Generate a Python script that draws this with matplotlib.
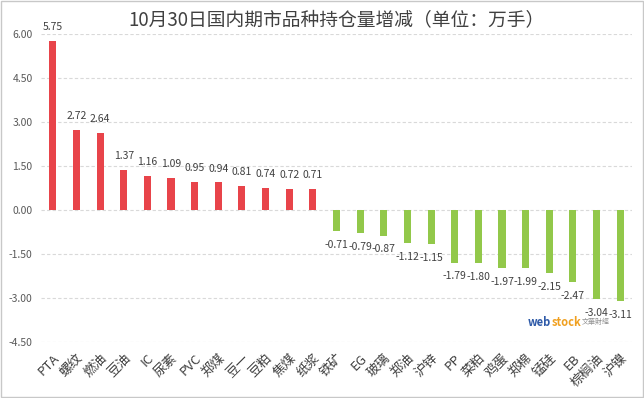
import matplotlib
matplotlib.use("Agg")
import matplotlib.pyplot as plt
from matplotlib.patches import Rectangle

plt.rcParams['font.family'] = ['Noto Sans CJK SC', 'DejaVu Sans']

categories = ["PTA", "螺纹", "燃油", "豆油", "IC", "尿素", "PVC", "郑煤", "豆一", "豆粕",
              "焦煤", "纸浆", "铁矿", "EG", "玻璃", "郑油", "沪锌", "PP", "菜粕", "鸡蛋",
              "郑棉", "锰硅", "EB", "棕榈油", "沪镍"]
values = [5.75, 2.72, 2.64, 1.37, 1.16, 1.09, 0.95, 0.94, 0.81, 0.74,
          0.72, 0.71, -0.71, -0.79, -0.87, -1.12, -1.15, -1.79, -1.80, -1.97,
          -1.99, -2.15, -2.47, -3.04, -3.11]
yticks = [6.00, 4.50, 3.00, 1.50, 0.00, -1.50, -3.00, -4.50]
title = "10月30日国内期市品种持仓量增减（单位：万手）"

RED = "#E8444A"
GREEN = "#92C84A"

fig = plt.figure(figsize=(6.44, 3.98), dpi=100)
ax = fig.add_axes([41/644, 1 - 342/398, (632 - 41)/644, (342 - 34)/398])

x = list(range(len(categories)))
colors = [RED if v >= 0 else GREEN for v in values]
ax.bar(x, values, width=0.3, color=colors, zorder=3)

ax.set_ylim(-4.5, 6.0)
ax.set_xlim(-0.5, len(categories) - 0.5)
ax.set_yticks(yticks)
ax.set_yticklabels([f"{t:.2f}" for t in yticks], fontsize=7.5, color="#595959")
ax.yaxis.grid(True, color="#D9D9D9", linestyle=(0, (3, 2)), linewidth=0.8, zorder=0)
ax.tick_params(axis='y', length=0, pad=6)
ax.tick_params(axis='x', length=0, pad=7)
ax.set_xticks(x)
ax.set_xticklabels(categories, rotation=45, ha='right', rotation_mode='anchor',
                   fontsize=9.5, color="#404040")
for s in ax.spines.values():
    s.set_visible(False)

for xi, v in zip(x, values):
    if v >= 0:
        ax.annotate(f"{v:.2f}", (xi, v), xytext=(0, 10), textcoords='offset points',
                    ha='center', va='center', fontsize=7.5, color="#404040")
    else:
        ax.annotate(f"{v:.2f}", (xi, v), xytext=(0, -10), textcoords='offset points',
                    ha='center', va='center', fontsize=7.5, color="#404040")

fig.text(336/644, 1 - 20/398, title, ha='center', va='center', fontsize=13.5, color="#404040")

fig.text(528/644, 1 - 322/398, "web", ha='left', va='center', fontsize=8,
         color="#2E5AA8", fontweight='bold')
fig.text(552/644, 1 - 322/398, "stock", ha='left', va='center', fontsize=8,
         color="#F0A020", fontweight='bold')
fig.text(582/644, 1 - 322/398, "文華財經", ha='left', va='center', fontsize=5,
         color="#909090")

fig.patches.append(Rectangle((1/644, 1/398), 642/644, 396/398, transform=fig.transFigure,
                             fill=False, edgecolor="#C8C8C8", linewidth=1))

fig.savefig("out.png", dpi=100)
